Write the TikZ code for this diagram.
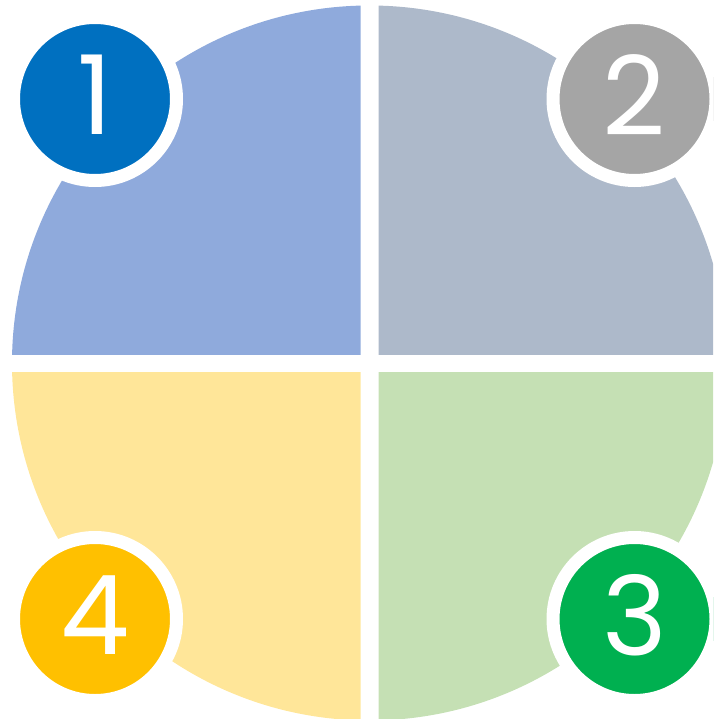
\documentclass[tikz,border=0pt]{standalone}
\usepackage{fontspec}
\setmainfont{Poppins}
\definecolor{qone}{HTML}{8FAADC}
\definecolor{qtwo}{HTML}{ADB9CA}
\definecolor{qthree}{HTML}{C5E0B4}
\definecolor{qfour}{HTML}{FFE699}
\definecolor{bone}{HTML}{0070C0}
\definecolor{btwo}{HTML}{A5A5A5}
\definecolor{bthree}{HTML}{00B050}
\definecolor{bfour}{HTML}{FFC000}
\begin{document}
\begin{tikzpicture}[x=1pt,y=-1pt,
  badge/.style={circle, draw=white, line width=13pt, minimum size=163pt, inner sep=0pt,
    text=white, font=\fontsize{110}{110}\selectfont}]
\useasboundingbox (0,0) rectangle (713,719);
\clip (0,0) rectangle (713,719);
\coordinate (c) at (369.5,363);
\begin{scope}
  \clip (0,0) rectangle (360.5,354);
  \fill[qone] (c) circle[radius=357.5pt];
\end{scope}
\begin{scope}
  \clip (378.5,0) rectangle (713,354);
  \fill[qtwo] (c) circle[radius=357.5pt];
\end{scope}
\begin{scope}
  \clip (378.5,372) rectangle (713,719);
  \fill[qthree] (c) circle[radius=357.5pt];
\end{scope}
\begin{scope}
  \clip (0,372) rectangle (360.5,719);
  \fill[qfour] (c) circle[radius=357.5pt];
\end{scope}
\node[badge, fill=bone] (b1) at (95,99) {\raisebox{8pt}{1}};
\node[badge, fill=btwo] (b2) at (634.5,99) {\raisebox{8pt}{2}};
\node[badge, fill=bthree] (b3) at (634.5,619) {\raisebox{8pt}{3}};
\node[badge, fill=bfour] (b4) at (95,619) {\raisebox{8pt}{4}};
\end{tikzpicture}
\end{document}
